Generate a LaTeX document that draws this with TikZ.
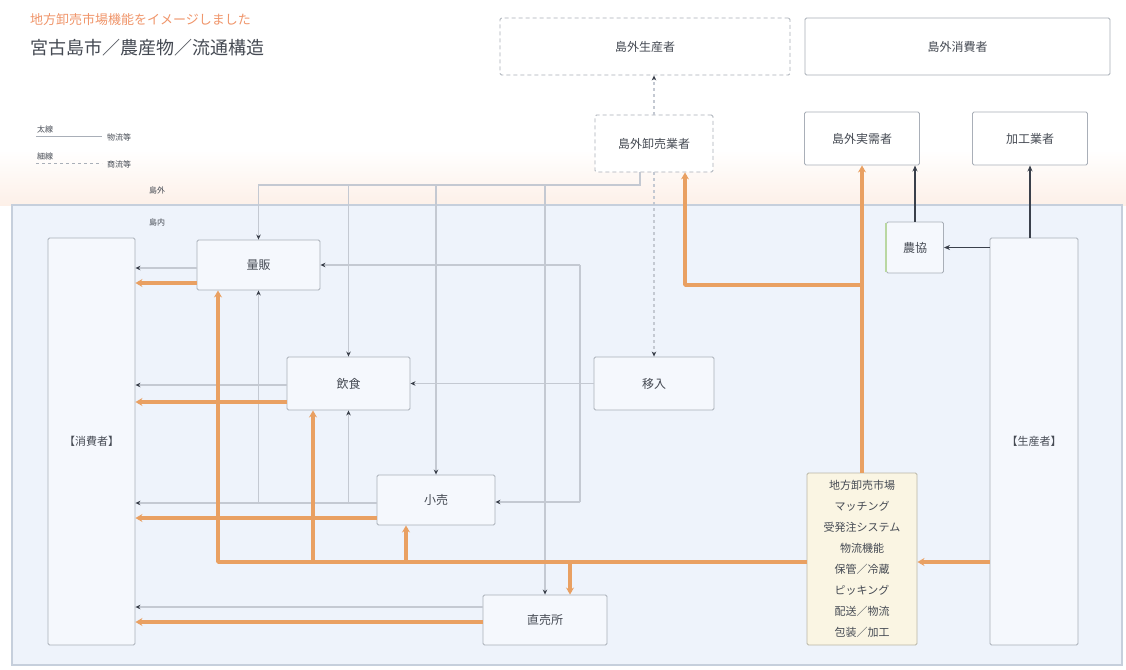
\documentclass[tikz,border=0pt]{standalone}
\usepackage{fontspec}
\setmainfont{Noto Sans CJK JP}
\usetikzlibrary{arrows.meta}
\definecolor{org}{HTML}{E9A062}
\definecolor{orgtxt}{HTML}{F0956A}
\definecolor{blufill}{HTML}{EEF3FB}
\definecolor{bluline}{HTML}{C6CFDC}
\definecolor{boxline}{HTML}{A9AFB8}
\definecolor{boxfill}{HTML}{F5F8FD}
\definecolor{gcol}{HTML}{C4C9D2}
\definecolor{dark}{HTML}{3A404B}
\definecolor{cream}{HTML}{FAF5E3}
\definecolor{creamline}{HTML}{B9B6A6}
\definecolor{txt}{HTML}{454A53}
\definecolor{peach}{HTML}{FDF0E8}
\definecolor{grn}{HTML}{B9D7A2}
\begin{document}
\begin{tikzpicture}[x=1pt,y=-1pt,
  box/.style={draw=boxline, line width=0.9pt, fill=boxfill, rounded corners=1.5pt, inner sep=0pt,
    font=\fontsize{12}{14}\selectfont, text=txt},
  dbox/.style={box, dash pattern=on 4pt off 3pt},
  oline/.style={draw=org, line width=3.5pt, line join=round},
  otip/.style={-{Stealth[length=7pt,width=8pt]}},
  gline/.style={draw=gcol, line width=1.2pt},
  gtip/.style={-{Stealth[length=5pt,width=4.5pt,color=dark]}},
  dline/.style={draw=dark, line width=1.2pt},
  lbl/.style={font=\fontsize{8}{10}\selectfont, text=txt, inner sep=1pt}
]
\useasboundingbox (0,0) rectangle (1126,669);
\fill[white] (0,0) rectangle (1126,669);
\fill[top color=white, bottom color=peach] (0,150) rectangle (1126,205);
\draw[draw=bluline, fill=blufill, line width=1.2pt] (12,205) rectangle (1122,665);

% title
\node[anchor=west, text=orgtxt, font=\fontsize{13}{15}\selectfont, inner sep=0pt] (t1) at (30,20) {地方卸売市場機能をイメージしました};
\node[anchor=west, text=txt, font=\fontsize{18}{20}\selectfont, inner sep=0pt] (t2) at (30,48) {宮古島市／農産物／流通構造};

% legend
\node[lbl, anchor=west] (lg1) at (36,129) {太線};
\node[lbl, anchor=west] (lg2) at (106,137) {物流等};
\draw[draw=boxline, line width=1pt] (lg1.south west |- 0,136) -- ([xshift=-4]lg2.west |- 0,136);
\node[lbl, anchor=west] (lg3) at (36,156) {細線};
\node[lbl, anchor=west] (lg4) at (106,164) {商流等};
\draw[draw=boxline, line width=1pt, dashed] (lg3.south west |- 0,163) -- ([xshift=-4]lg4.west |- 0,163);
\node[lbl] (out) at (157,190) {島外};
\node[lbl] (in) at (157,222) {島内};

% outside nodes
\node[dbox, fill=white, minimum width=290, minimum height=57] (outprod) at (645,46.5) {島外生産者};
\node[box, fill=white, minimum width=305, minimum height=57] (outcons) at (957.5,46.5) {島外消費者};
\node[dbox, fill=white, minimum width=118, minimum height=57] (outwhs) at (654,143.5) {島外卸売業者};
\node[box, fill=white, minimum width=115, minimum height=53] (jitsu) at (862,138.5) {島外実需者};
\node[box, fill=white, minimum width=115, minimum height=53] (kako) at (1030,138.5) {加工業者};

% inside nodes
\node[box, minimum width=57, minimum height=51] (nokyo) at (915,247.5) {農協};
\draw[grn, line width=2pt] ([yshift=-1]nokyo.north west) -- ([yshift=1]nokyo.south west);
\node[box, minimum width=87, minimum height=407, font=\fontsize{11}{13}\selectfont] (cons) at (91.5,441.5) {【消費者】};
\node[box, minimum width=88, minimum height=407, font=\fontsize{11}{13}\selectfont] (prod) at (1034,441.5) {【生産者】};
\node[box, minimum width=123, minimum height=50] (ryohan) at (258.5,265) {量販};
\node[box, minimum width=123, minimum height=53] (inshoku) at (348.5,383.5) {飲食};
\node[box, minimum width=118, minimum height=50] (kouri) at (436,500) {小売};
\node[box, minimum width=124, minimum height=50] (choku) at (545,620) {直売所};
\node[box, minimum width=120, minimum height=53] (inyu) at (654,383.5) {移入};
\node[box, fill=cream, draw=creamline, minimum width=110, minimum height=172, align=center,
  font=\fontsize{11}{21}\selectfont] (market) at (862,559)
  {地方卸売市場\\マッチング\\受発注システム\\物流機能\\保管／冷蔵\\ピッキング\\配送／物流\\包装／加工};

% gray (commercial) lines
\coordinate (g0) at (640,185);
\draw[gline, gtip] (outwhs.south -| g0) -- (g0) -| (ryohan.north);
\draw[gline, gtip] (g0 -| inshoku.north) -- (inshoku.north);
\draw[gline, gtip] (g0 -| kouri.north) -- (kouri.north);
\draw[gline, gtip] (g0 -| choku.north) -- (choku.north);
\draw[gline, dashed, gtip] (outwhs.south) -- (inyu.north);
\draw[gline, dashed, gtip] (outwhs.north) -- (outwhs.north |- outprod.south);
\draw[gline, gtip] (inyu.west) -- (inshoku.east);
\coordinate (g1) at (580,265);
\coordinate (g2) at (580,502);
\draw[gline] (g1) -- (g2);
\draw[gline, gtip] (g1) -- (ryohan.east |- g1);
\draw[gline, gtip] (g2) -- (kouri.east |- g2);
\draw[gline, gtip] (ryohan.west |- 0,268) -- (cons.east |- 0,268);
\draw[gline, gtip] (inshoku.west |- 0,385) -- (cons.east |- 0,385);
\draw[gline, gtip] (kouri.west |- 0,503) -- (cons.east |- 0,503);
\draw[gline, gtip] (choku.west |- 0,607) -- (cons.east |- 0,607);
\draw[gline, gtip] (ryohan.south |- 0,503) -- (ryohan.south);
\draw[gline, gtip] (inshoku.south |- 0,503) -- (inshoku.south);

% orange (goods) lines
\coordinate (b1) at (218,562);
\coordinate (b2) at (313,562);
\coordinate (b3) at (406,562);
\coordinate (b4) at (570,562);
\coordinate (j1) at (862,285);
\draw[oline, otip] (market.west |- b1) -- (b1) -- (b1 |- ryohan.south);
\draw[oline, otip] (b2) -- (b2 |- inshoku.south);
\draw[oline, otip] (b3) -- (b3 |- kouri.south);
\draw[oline, otip] (b4) -- (b4 |- choku.north);
\draw[oline, otip] (prod.west |- b1) -- (market.east |- b1);
\draw[oline, otip] (market.north) -- (jitsu.south);
\draw[oline, otip] (j1) -| ([xshift=31]outwhs.south);
\draw[oline, otip] (ryohan.west |- 0,283) -- (cons.east |- 0,283);
\draw[oline, otip] (inshoku.west |- 0,402) -- (cons.east |- 0,402);
\draw[oline, otip] (kouri.west |- 0,518) -- (cons.east |- 0,518);
\draw[oline, otip] (choku.west |- 0,622) -- (cons.east |- 0,622);

% dark lines
\draw[dline, -{Stealth[length=6pt,width=5pt]}] (prod.north -| kako.south) -- (kako.south);
\draw[dline, -{Stealth[length=6pt,width=5pt]}] (nokyo.north) -- (nokyo.north |- jitsu.south);
\draw[dline, -{Stealth[length=6pt,width=5pt]}] (prod.west |- nokyo.east) -- (nokyo.east);
\end{tikzpicture}
\end{document}
